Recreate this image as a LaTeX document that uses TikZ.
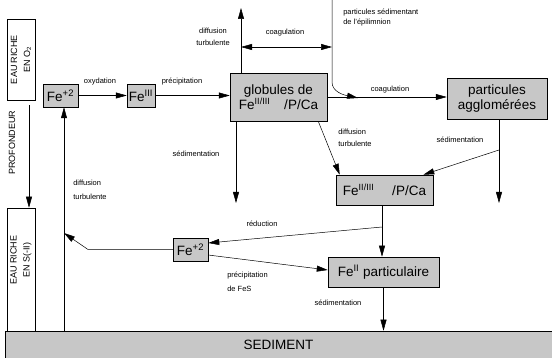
\documentclass[tikz,border=0pt]{standalone}
\usepackage{fontspec}
\setmainfont{Liberation Sans}
\usetikzlibrary{arrows.meta,positioning,calc}

\begin{document}
\begin{tikzpicture}[x=1pt, y=-1pt, line width=0.5pt,
  box/.style={draw, fill=black!22, inner sep=1pt, align=center, font=\fontsize{13.5}{15}\selectfont},
  lbl/.style={inner sep=0pt, align=left, font=\fontsize{7.5}{12}\selectfont},
  side/.style={rotate=90, inner sep=0pt, align=center, font=\fontsize{9}{13}\selectfont},
  >={Triangle[length=11pt,width=6pt]}]
\useasboundingbox (0,0) rectangle (552,358);

% depth column
\node[draw, minimum width=28pt, minimum height=81pt] (eauO2) at (21,59.5) {};
\node[side] (o2txt) at (eauO2) {EAU RICHE\\EN O\textsubscript{2}};
\node[draw, minimum width=28pt, minimum height=123pt] (eauS) at (21,269.5) {};
\node[side] (stxt) at (21,260) {EAU RICHE\\EN S(-II)};
\node[side] (prof) at (12,143) {PROFONDEUR};
\draw[->] ([xshift=8pt,yshift=-5pt]eauO2.south) -- ([xshift=8pt]eauS.north);

% boxes
\node[box, minimum width=35pt, minimum height=23pt] (feA) at (60.5,95.5) {Fe\textsuperscript{+2}};
\node[box, minimum width=28pt, minimum height=23pt] (feB) at (141,95.5) {Fe\textsuperscript{III}};
\node[box, minimum width=97pt, minimum height=48pt] (glob) at (278.5,97) {globules de\\Fe\textsuperscript{\small II/III}\hspace{14pt}/P/Ca};
\node[box, minimum width=100pt, minimum height=41pt] (aggl) at (497,98.5) {particules\\agglomérées};
\node[box, minimum width=97pt, minimum height=30pt] (fepc) at (384.5,190) {Fe\textsuperscript{\small II/III}\hspace{18pt}/P/Ca};
\node[box, minimum width=35pt, minimum height=23pt] (feC) at (190.5,249.5) {Fe\textsuperscript{+2}};
\node[box, minimum width=111pt, minimum height=30pt] (fepart) at (383.5,272) {Fe\textsuperscript{II} particulaire};
\node[box, minimum width=547pt, minimum height=27pt] (sed) at (278.5,344.5) {SEDIMENT};

% labels
\node[lbl] (oxy) at (100,82) {oxydation};
\node[lbl] (prec) at (182,82) {précipitation};
\node[lbl, align=center] (dt1) at (213,37) {diffusion\\turbulente};
\node[lbl] (coag1) at (285,33) {coagulation};
\node[lbl, anchor=west] (epil) at (343,18) {particules sédimentant\\[-2pt]de l'épilimnion};
\node[lbl] (coag2) at (390,90) {coagulation};
\node[lbl, anchor=west] (dt2) at (338,138) {diffusion\\turbulente};
\node[lbl] (sed1) at (196,154) {sédimentation};
\node[lbl] (sed2) at (460,140) {sédimentation};
\node[lbl] (red) at (262,224) {réduction};
\node[lbl, anchor=west] (pfes) at (227,282) {précipitation\\[2pt]de FeS};
\node[lbl] (sed3) at (338,303) {sédimentation};
\node[lbl, anchor=west] (dt3) at (73,190) {diffusion\\[2pt]turbulente};

% free ends
\coordinate (up) at (241,8);
\coordinate (epi) at (332,0);
\coordinate (cl) at (241,47);
\coordinate (cr) at (332,47);
\coordinate (jn) at (358,98);
\coordinate (s1) at (236,203);
\coordinate (s2) at (499,203);
\coordinate (b2) at (499,150);
\coordinate (b3) at (382,227);
\coordinate (dl) at (64,233);

% upper water
\draw[->] (feA) -- (feB);
\draw[->] (feB.east) -- (feB.east -| glob.west);
\draw[->] (glob.north -| up) -- (up);
\draw[<->] (cl) -- (cr);
\draw[->] (epi) -- (332,82) .. controls (332,92) and (344,95) .. (jn);
\draw[->] (glob.east) -- (glob.east -| aggl.west);
\draw[->] ([xshift=-9pt]glob.south east) -- ([xshift=4pt]fepc.north west);
\draw[->] (glob.south -| s1) -- (s1);
\draw[->] (aggl.south -| s2) -- (s2);
\draw[->] (b2) -- ([xshift=-10pt]fepc.north east);

% lower water
\draw[->] ([xshift=-2.5pt]fepc.south) -- ([xshift=-2.5pt]fepc.south |- fepart.north);
\draw[->] (b3) -- ([yshift=6.5pt]feC.east);
\draw[->] ([yshift=-5.5pt]feC.east) -- ([yshift=2pt]fepart.west);
\draw[->] (feC.west) -- (88,249.5) -- (dl);
\draw[->] (sed.north -| dl) -- ([xshift=3.5pt]feA.south);
\draw[->] (fepart.south) -- (fepart.south |- sed.north);
\end{tikzpicture}
\end{document}
